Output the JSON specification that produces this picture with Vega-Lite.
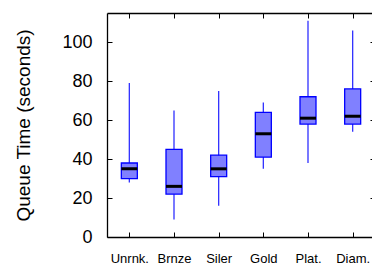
{
  "$schema": "https://vega.github.io/schema/vega-lite/v6.json",
  "width": 268,
  "height": 224,
  "autosize": "none",
  "padding": {"left": 107, "top": 13, "right": 0, "bottom": 28},
  "config": {
    "font": "Liberation Sans",
    "view": {"stroke": null},
    "axis": {
      "grid": false,
      "domainColor": "black",
      "domainWidth": 1.3,
      "tickColor": "black",
      "labelColor": "black",
      "titleColor": "black",
      "tickSize": -5,
      "tickWidth": 1
    }
  },
  "data": {
    "values": [
      {"tier": "Unrnk.", "min": 28, "q1": 30, "median": 35, "q3": 38, "max": 79},
      {"tier": "Brnze", "min": 9, "q1": 22, "median": 26, "q3": 45, "max": 65},
      {"tier": "Siler", "min": 16, "q1": 31, "median": 35, "q3": 42, "max": 75},
      {"tier": "Gold", "min": 35, "q1": 41, "median": 53, "q3": 64, "max": 69},
      {"tier": "Plat.", "min": 38, "q1": 58, "median": 61, "q3": 72, "max": 111},
      {"tier": "Diam.", "min": 54, "q1": 58, "median": 62, "q3": 76, "max": 106}
    ]
  },
  "resolve": {"axis": {"x": "independent", "y": "independent"}},
  "layer": [
    {
      "mark": {"type": "rule", "color": "#3030ff", "strokeWidth": 1.3},
      "encoding": {
        "x": {"field": "tier", "type": "nominal", "sort": null,
              "scale": {"type": "point", "padding": 0.5},
              "axis": {"orient": "bottom", "title": null, "labelAngle": 0, "labelFontSize": 13, "labelPadding": 20}},
        "y": {"field": "min", "type": "quantitative",
              "scale": {"domain": [0, 115], "nice": false, "zero": true},
              "axis": {"orient": "left", "values": [0, 20, 40, 60, 80, 100], "labelFontSize": 18, "labelPadding": 20,
                       "title": "Queue Time (seconds)", "titleFontSize": 19, "titleFontWeight": "normal", "titlePadding": 28}},
        "y2": {"field": "max"}
      }
    },
    {
      "mark": {"type": "bar", "size": 16, "fill": "#8080ff", "stroke": "#0000ff", "strokeWidth": 1.3},
      "encoding": {
        "x": {"field": "tier", "type": "nominal", "sort": null,
              "axis": {"orient": "top", "title": null, "labels": false, "domain": true}},
        "y": {"field": "q1", "type": "quantitative",
              "axis": {"orient": "right", "title": null, "labels": false, "domain": false, "values": [0, 20, 40, 60, 80, 100]}},
        "y2": {"field": "q3"}
      }
    },
    {
      "mark": {"type": "tick", "color": "black", "size": 16, "thickness": 3, "opacity": 1},
      "encoding": {
        "x": {"field": "tier", "type": "nominal", "sort": null, "axis": null},
        "y": {"field": "median", "type": "quantitative", "axis": null}
      }
    }
  ]
}
